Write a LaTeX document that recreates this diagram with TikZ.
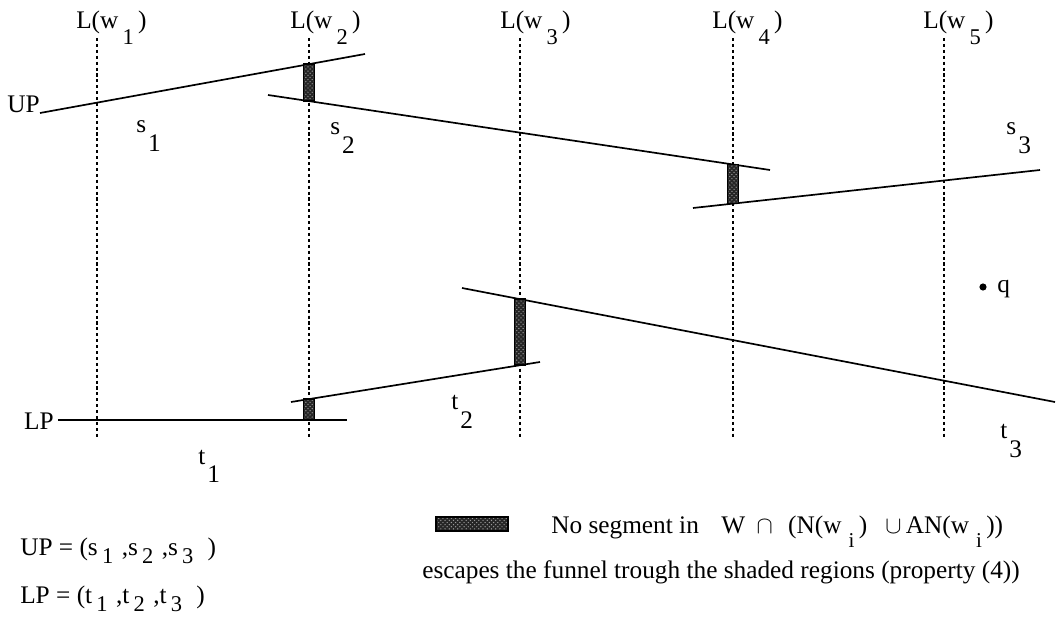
\documentclass[tikz,border=0pt]{standalone}
\usepackage{fontspec}
\setmainfont{Liberation Serif}
\usepackage{tikz}
\usetikzlibrary{patterns}

\newcommand{\seglbl}[2]{#1\kern1.5pt\raisebox{-13pt}{#2}}
\newcommand{\Lw}[1]{L(w\kern3pt\raisebox{-11pt}{\fontsize{16}{18}\selectfont #1}\kern3pt)}
\newcommand{\ls}[1]{\raisebox{-6pt}{\fontsize{16}{18}\selectfont #1}}
\newcommand{\li}{\raisebox{-10pt}{\fontsize{15}{17}\selectfont i}}

\begin{document}
\begin{tikzpicture}[
  x=0.025cm, y=-0.025cm,
  lbl/.style={font=\fontsize{18}{21}\selectfont, inner sep=0pt, anchor=base west},
  guide/.style={line width=1.1pt, dash pattern=on 2.2pt off 2pt},
  seg/.style={line width=1.2pt},
  hatch/.style={draw=black, line width=1pt, preaction={fill=black!85}, pattern=crosshatch dots, pattern color=white!60!black},
]
\useasboundingbox (0,0) rectangle (1057,628);

% the five vertical lines
\foreach \x [count=\i] in {97,309,520,733,944} {
  \coordinate (w\i t) at (\x,38);
  \coordinate (w\i b) at (\x,437);
  \draw[guide] (w\i t) -- (w\i b);
}
\node[lbl] (lw1) at (76,29)  {\Lw{1}};
\node[lbl] (lw2) at (290,29) {\Lw{2}};
\node[lbl] (lw3) at (500,29) {\Lw{3}};
\node[lbl] (lw4) at (712,29) {\Lw{4}};
\node[lbl] (lw5) at (923,29) {\Lw{5}};

% upper chain
\coordinate (s1a) at (40,113);  \coordinate (s1b) at (365,54);
\coordinate (s2a) at (268,95);  \coordinate (s2b) at (770,170);
\coordinate (s3a) at (693,208); \coordinate (s3b) at (1040,170);
\draw[seg] (s1a) -- (s1b);
\draw[seg] (s2a) -- (s2b);
\draw[seg] (s3a) -- (s3b);
\node[lbl, anchor=base east] (up) at (s1a) {UP};

% lower chain
\coordinate (t1a) at (58,420);  \coordinate (t1b) at (347,420);
\coordinate (t2a) at (291,402); \coordinate (t2b) at (540,362);
\coordinate (t3a) at (462,288); \coordinate (t3b) at (1055,402);
\draw[seg] (t1a) -- (t1b);
\draw[seg] (t2a) -- (t2b);
\draw[seg] (t3a) -- (t3b);
\node[lbl, anchor=base east] (lp) at (54,430) {LP};

% shaded regions
\coordinate (a1) at (intersection of s1a--s1b and w2t--w2b);
\coordinate (a2) at (intersection of s2a--s2b and w2t--w2b);
\coordinate (b1) at (intersection of s2a--s2b and w4t--w4b);
\coordinate (b2) at (intersection of s3a--s3b and w4t--w4b);
\coordinate (c1) at (intersection of t3a--t3b and w3t--w3b);
\coordinate (c2) at (intersection of t2a--t2b and w3t--w3b);
\coordinate (d1) at (intersection of t2a--t2b and w2t--w2b);
\coordinate (d2) at (intersection of t1a--t1b and w2t--w2b);
\draw[hatch] ([xshift=-0.14cm]a1) rectangle ([xshift=0.14cm]a2);
\draw[hatch] ([xshift=-0.14cm]b1) rectangle ([xshift=0.14cm]b2);
\draw[hatch] ([xshift=-0.14cm]c1) rectangle ([xshift=0.14cm]c2);
\draw[hatch] ([xshift=-0.14cm]d1) rectangle ([xshift=0.14cm]d2);

% segment names
\node[lbl] (ls1) at (136,133) {\seglbl{s}{1}};
\node[lbl] (ls2) at (330,135) {\seglbl{s}{2}};
\node[lbl] (ls3) at (1006,135) {\seglbl{s}{3}};
\node[lbl] (lt1) at (198,464) {\seglbl{t}{1}};
\node[lbl] (lt2) at (451,410) {\seglbl{t}{2}};
\node[lbl] (lt3) at (1000,439) {\seglbl{t}{3}};

% the point q
\node[circle, fill, inner sep=1.8pt] (q) at (983,287) {};
\node[lbl] (lq) at (997,293) {q};

% legend
\node[lbl] (upl) at (20,555) {UP = (s\,\ls{1}\,\,,s\,\ls{2}\,\,,s\,\ls{3}\hspace{10pt})};
\node[lbl] (lpl) at (20,603) {LP = (t\,\ls{1}\,\,,t\,\ls{2}\,\,,t\,\ls{3}\hspace{10pt})};
\draw[hatch] (436,517) rectangle (508,531);
\node[lbl] (key) at (551,533) {No segment in\hspace{16pt}W\hspace{8pt}$\cap$\hspace{11pt}(N(w\hspace{5pt}\li\hspace{3pt})\hspace{13pt}$\cup$\,AN(w\hspace{5pt}\li\hspace{3pt}))};
\node[lbl] (key2) at (422,578) {escapes the funnel trough the shaded regions (property (4))};
\end{tikzpicture}
\end{document}
